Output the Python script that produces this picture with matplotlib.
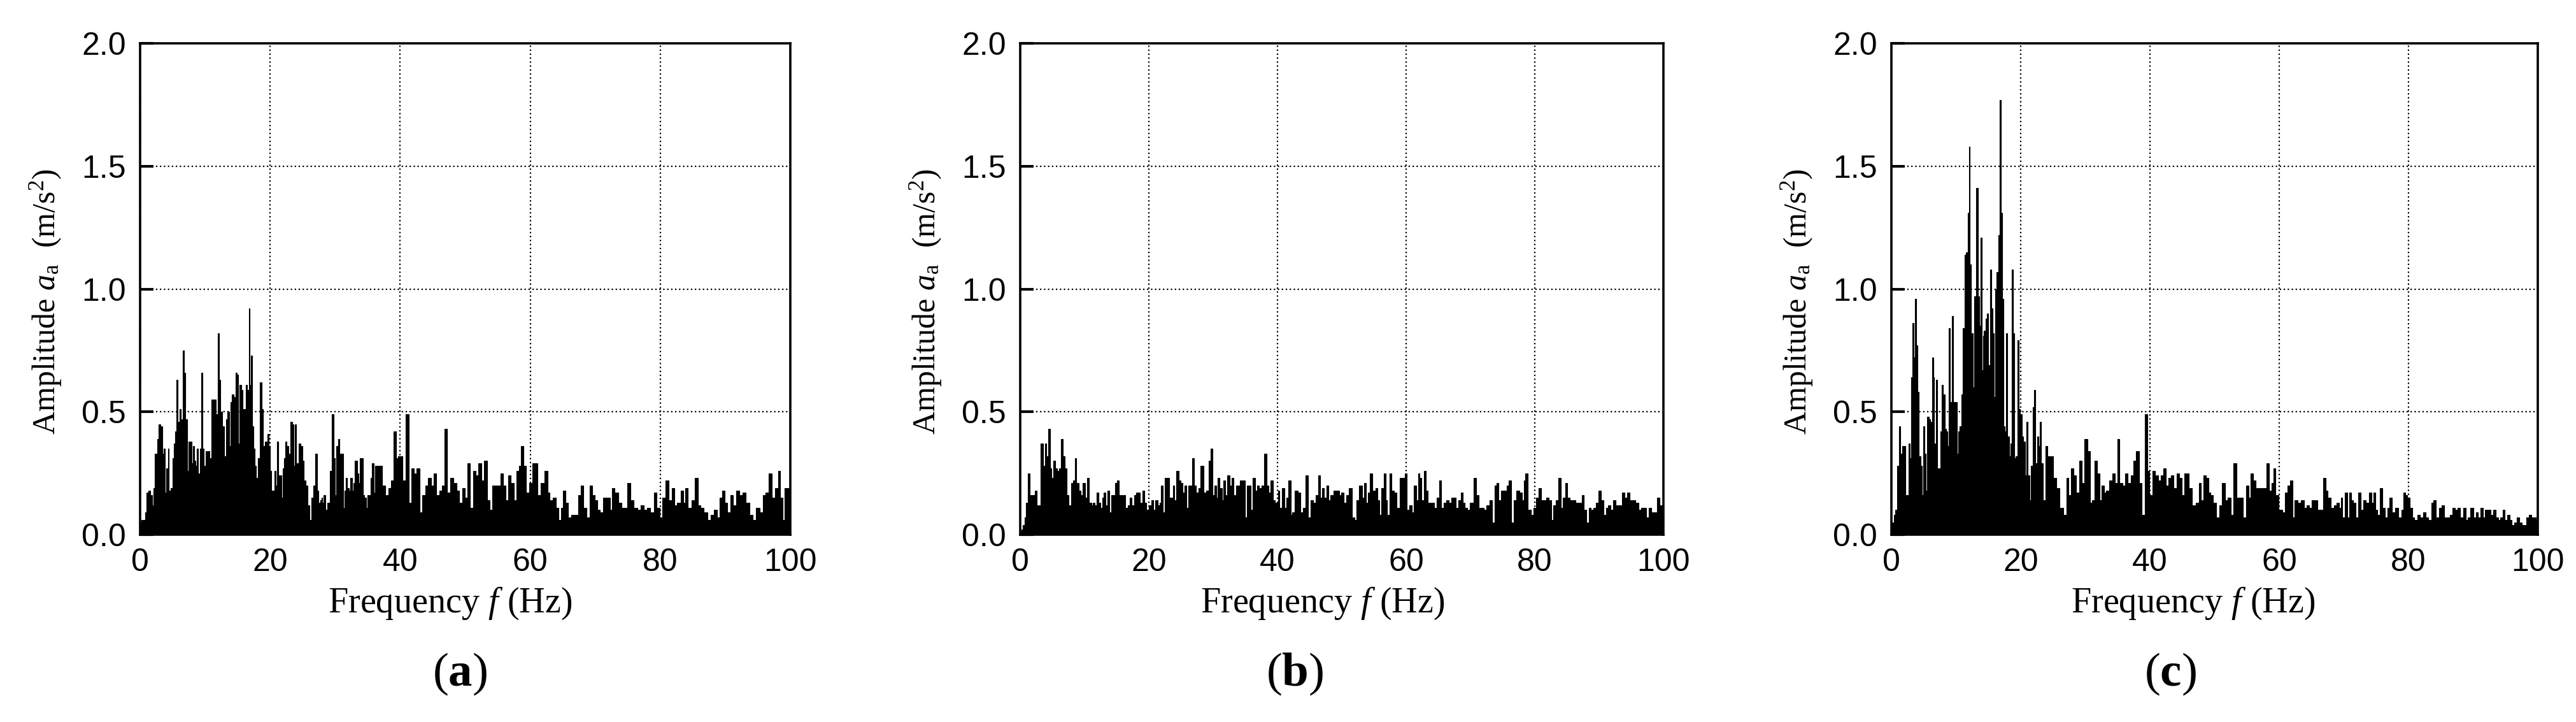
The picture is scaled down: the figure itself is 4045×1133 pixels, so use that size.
import numpy as np
import matplotlib
matplotlib.use("Agg")
import matplotlib.pyplot as plt

plt.rcParams['mathtext.fontset'] = 'custom'
plt.rcParams['mathtext.rm'] = 'Liberation Serif'
plt.rcParams['mathtext.it'] = 'Liberation Serif:italic'
plt.rcParams['mathtext.bf'] = 'Liberation Serif:bold'

# ---------------- data ----------------
A_FREQ = [
    0.0, 0.3, 0.6, 0.9, 1.1, 1.4, 1.7, 2.0, 2.1, 2.5,
    2.7, 3.0, 3.3, 3.5, 3.7, 3.9, 4.2, 4.4, 4.5, 4.7,
    4.8, 5.1, 5.3, 5.5, 5.7, 5.8, 6.0, 6.2, 6.4, 6.7,
    6.9, 7.1, 7.3, 7.6, 7.8, 8.0, 8.2, 8.4, 8.6, 8.8,
    9.0, 9.2, 9.3, 9.5, 9.7, 9.9, 10.2, 10.6, 10.8, 11.1,
    11.3, 11.6, 11.8, 12.1, 12.2, 12.5, 12.7, 12.8, 13.0, 13.2,
    13.3, 13.6, 13.8, 14.0, 14.2, 14.5, 14.8, 15.0, 15.2, 15.4,
    15.7, 15.9, 16.2, 16.3, 16.6, 16.8, 16.9, 17.1, 17.3, 17.5,
    17.7, 17.9, 18.0, 18.3, 18.6, 18.8, 19.0, 19.3, 19.5, 19.7,
    19.9, 20.1, 20.3, 20.6, 20.8, 20.9, 21.2, 21.4, 21.7, 21.8,
    22.0, 22.2, 22.4, 22.7, 22.9, 23.0, 23.3, 23.5, 23.7, 23.9,
    24.1, 24.3, 24.5, 24.9, 25.0, 25.3, 25.7, 25.9, 26.2, 26.5,
    26.8, 27.1, 27.3, 27.6, 27.8, 28.0, 28.1, 28.4, 28.6, 28.9,
    29.1, 29.3, 29.6, 29.9, 30.1, 30.3, 30.6, 30.8, 31.1, 31.3,
    31.5, 31.7, 32.0, 32.2, 32.5, 32.7, 32.9, 33.2, 33.5, 33.7,
    33.9, 34.1, 34.4, 34.6, 34.9, 35.1, 35.4, 35.5, 35.8, 36.0,
    36.3, 36.7, 37.0, 37.5, 37.9, 38.4, 38.8, 39.2, 39.5, 39.9,
    40.3, 40.5, 41.1, 41.6, 41.9, 42.3, 42.7, 43.2, 43.6, 44.1,
    44.5, 45.0, 45.3, 45.8, 46.2, 46.6, 47.1, 47.4, 47.9, 48.4,
    48.9, 49.3, 49.8, 50.1, 50.5, 51.0, 51.4, 51.8, 52.2, 52.7,
    53.1, 53.6, 53.9, 54.4, 54.8, 55.3, 55.6, 56.0, 56.4, 56.8,
    57.3, 57.7, 58.1, 58.4, 58.8, 59.2, 59.6, 60.1, 60.5, 60.9,
    61.4, 61.9, 62.5, 62.8, 63.2, 63.7, 64.2, 64.5, 64.9, 65.2,
    65.6, 66.1, 66.6, 67.1, 67.6, 67.9, 68.4, 69.0, 69.3, 69.7,
    70.1, 70.5, 71.0, 71.5, 72.1, 72.4, 72.7, 73.3, 73.8, 74.2,
    74.7, 75.2, 75.6, 76.2, 76.7, 77.2, 77.7, 78.2, 78.8, 79.2,
    79.7, 80.1, 80.6, 81.1, 81.5, 82.0, 82.3, 82.9, 83.4, 83.7,
    84.0, 84.5, 85.1, 85.5, 86.0, 86.4, 87.0, 87.5, 88.0, 88.5,
    88.9, 89.3, 89.7, 90.2, 90.5, 91.0, 91.4, 91.9, 92.5, 92.9,
    93.4, 94.0, 94.5, 95.0, 95.5, 96.0, 96.4, 97.0, 97.4, 97.9,
    98.3, 98.6, 99.0, 99.3, 99.8, 100.0]
A_AMP = [
    0.05, 0.06, 0.06, 0.09, 0.17, 0.18, 0.16, 0.12, 0.19, 0.33,
    0.39, 0.45, 0.44, 0.33, 0.35, 0.17, 0.27, 0.35, 0.18, 0.11,
    0.19, 0.31, 0.37, 0.42, 0.63, 0.45, 0.46, 0.51, 0.47, 0.75,
    0.66, 0.47, 0.26, 0.38, 0.38, 0.29, 0.36, 0.30, 0.28, 0.35,
    0.25, 0.10, 0.35, 0.66, 0.35, 0.28, 0.34, 0.34, 0.31, 0.55,
    0.55, 0.55, 0.49, 0.82, 0.63, 0.50, 0.41, 0.44, 0.32, 0.17,
    0.47, 0.50, 0.36, 0.54, 0.57, 0.56, 0.66, 0.65, 0.37, 0.61,
    0.59, 0.51, 0.51, 0.61, 0.59, 0.92, 0.61, 0.73, 0.44, 0.35,
    0.28, 0.17, 0.23, 0.31, 0.62, 0.51, 0.36, 0.38, 0.38, 0.41,
    0.36, 0.26, 0.18, 0.18, 0.26, 0.20, 0.38, 0.24, 0.24, 0.15,
    0.27, 0.31, 0.38, 0.36, 0.31, 0.33, 0.46, 0.45, 0.28, 0.45,
    0.29, 0.29, 0.37, 0.36, 0.30, 0.22, 0.20, 0.12, 0.06, 0.15,
    0.20, 0.33, 0.18, 0.13, 0.14, 0.15, 0.13, 0.16, 0.10, 0.13,
    0.13, 0.26, 0.49, 0.31, 0.16, 0.36, 0.39, 0.33, 0.33, 0.11,
    0.18, 0.23, 0.19, 0.18, 0.23, 0.18, 0.21, 0.30, 0.25, 0.21,
    0.31, 0.31, 0.16, 0.15, 0.11, 0.16, 0.16, 0.23, 0.29, 0.17,
    0.28, 0.28, 0.28, 0.20, 0.16, 0.19, 0.22, 0.42, 0.31, 0.32,
    0.32, 0.22, 0.49, 0.13, 0.27, 0.25, 0.27, 0.09, 0.16, 0.20,
    0.23, 0.20, 0.25, 0.16, 0.18, 0.20, 0.43, 0.17, 0.23, 0.21,
    0.18, 0.13, 0.19, 0.15, 0.29, 0.11, 0.26, 0.24, 0.29, 0.22,
    0.30, 0.14, 0.10, 0.20, 0.20, 0.20, 0.25, 0.20, 0.14, 0.24,
    0.21, 0.14, 0.26, 0.28, 0.36, 0.28, 0.17, 0.21, 0.29, 0.29,
    0.16, 0.21, 0.26, 0.17, 0.14, 0.15, 0.11, 0.06, 0.11, 0.18,
    0.13, 0.07, 0.08, 0.08, 0.16, 0.20, 0.11, 0.07, 0.20, 0.16,
    0.14, 0.10, 0.09, 0.15, 0.15, 0.10, 0.19, 0.17, 0.13, 0.11,
    0.11, 0.21, 0.14, 0.11, 0.10, 0.12, 0.10, 0.11, 0.09, 0.17,
    0.11, 0.07, 0.15, 0.22, 0.14, 0.19, 0.12, 0.13, 0.18, 0.13,
    0.19, 0.11, 0.14, 0.23, 0.12, 0.11, 0.09, 0.06, 0.08, 0.10,
    0.07, 0.15, 0.18, 0.13, 0.09, 0.16, 0.12, 0.18, 0.16, 0.17,
    0.13, 0.08, 0.06, 0.11, 0.09, 0.16, 0.17, 0.25, 0.15, 0.19,
    0.26, 0.15, 0.06, 0.19, 0.19, 0.15]

B_FREQ = [
    0.0, 0.3, 0.5, 0.8, 1.0, 1.3, 1.6, 1.9, 2.2, 2.4,
    2.7, 3.0, 3.4, 3.7, 4.0, 4.2, 4.5, 4.8, 5.0, 5.3,
    5.6, 5.9, 6.2, 6.5, 6.8, 7.1, 7.4, 7.7, 8.1, 8.4,
    8.6, 8.9, 9.3, 9.6, 9.9, 10.3, 10.5, 10.9, 11.2, 11.4,
    11.7, 12.1, 12.3, 12.6, 12.9, 13.1, 13.4, 13.7, 14.0, 14.3,
    14.7, 14.9, 15.2, 15.5, 15.9, 16.2, 16.5, 16.9, 17.2, 17.5,
    17.9, 18.2, 18.5, 18.8, 19.2, 19.5, 19.8, 20.2, 20.5, 20.8,
    21.2, 21.5, 21.8, 22.0, 22.4, 22.6, 23.0, 23.3, 23.6, 23.9,
    24.1, 24.5, 24.8, 25.1, 25.4, 25.7, 26.0, 26.3, 26.5, 26.9,
    27.2, 27.5, 27.9, 28.2, 28.4, 28.7, 29.1, 29.5, 29.7, 30.1,
    30.3, 30.6, 30.8, 31.2, 31.5, 31.7, 32.0, 32.4, 32.7, 33.0,
    33.4, 33.7, 34.0, 34.4, 34.8, 35.1, 35.3, 35.7, 36.0, 36.3,
    36.7, 37.0, 37.3, 37.7, 38.2, 38.4, 38.8, 39.1, 39.5, 39.8,
    40.0, 40.2, 40.4, 40.9, 41.2, 41.5, 41.9, 42.2, 42.4, 42.9,
    43.4, 43.8, 44.2, 44.6, 45.0, 45.3, 45.7, 46.1, 46.5, 46.8,
    47.1, 47.4, 47.8, 48.0, 48.4, 49.1, 49.5, 49.8, 50.1, 50.5,
    50.8, 51.4, 51.8, 52.1, 52.4, 53.0, 53.4, 53.6, 53.9, 54.2,
    54.5, 55.0, 55.4, 55.6, 56.0, 56.3, 56.7, 56.9, 57.2, 57.6,
    57.9, 58.3, 58.8, 59.3, 59.7, 59.9, 60.2, 60.7, 61.0, 61.4,
    61.7, 62.0, 62.2, 62.6, 62.9, 63.2, 63.6, 64.2, 64.6, 64.9,
    65.3, 65.6, 66.0, 66.5, 66.8, 67.2, 67.6, 67.9, 68.3, 68.7,
    69.0, 69.3, 69.7, 70.2, 70.7, 71.0, 71.5, 71.9, 72.2, 72.7,
    73.2, 73.6, 73.9, 74.2, 74.6, 74.9, 75.4, 75.8, 76.1, 76.5,
    76.9, 77.4, 77.8, 78.2, 78.4, 78.7, 79.2, 79.6, 80.0, 80.4,
    80.8, 81.2, 81.6, 82.0, 82.4, 82.7, 83.0, 83.5, 83.9, 84.2,
    84.6, 84.9, 85.2, 85.7, 86.1, 86.6, 87.1, 87.5, 87.8, 88.2,
    88.6, 88.9, 89.3, 89.7, 90.1, 90.5, 90.9, 91.2, 91.6, 92.0,
    92.4, 92.8, 93.3, 93.8, 94.2, 94.6, 95.0, 95.4, 95.9, 96.3,
    96.7, 97.1, 97.5, 97.9, 98.4, 98.8, 99.2, 99.6, 100.0]
B_AMP = [
    0.01, 0.02, 0.04, 0.07, 0.13, 0.25, 0.16, 0.16, 0.16, 0.18,
    0.12, 0.12, 0.37, 0.28, 0.37, 0.32, 0.43, 0.27, 0.23, 0.30,
    0.27, 0.26, 0.27, 0.39, 0.32, 0.27, 0.16, 0.12, 0.21, 0.22,
    0.31, 0.21, 0.18, 0.16, 0.21, 0.15, 0.23, 0.13, 0.12, 0.13,
    0.12, 0.17, 0.13, 0.11, 0.15, 0.17, 0.12, 0.18, 0.09, 0.16,
    0.16, 0.21, 0.22, 0.16, 0.16, 0.16, 0.11, 0.12, 0.15, 0.12,
    0.16, 0.17, 0.17, 0.13, 0.18, 0.13, 0.10, 0.12, 0.14, 0.10,
    0.14, 0.12, 0.13, 0.20, 0.09, 0.23, 0.23, 0.15, 0.15, 0.20,
    0.14, 0.26, 0.22, 0.21, 0.17, 0.20, 0.11, 0.20, 0.20, 0.31,
    0.20, 0.17, 0.19, 0.28, 0.28, 0.17, 0.18, 0.30, 0.35, 0.16,
    0.20, 0.15, 0.23, 0.19, 0.14, 0.22, 0.16, 0.24, 0.20, 0.23,
    0.16, 0.20, 0.20, 0.22, 0.22, 0.07, 0.20, 0.20, 0.10, 0.23,
    0.18, 0.20, 0.19, 0.20, 0.33, 0.20, 0.17, 0.22, 0.14, 0.13,
    0.13, 0.18, 0.11, 0.19, 0.11, 0.15, 0.22, 0.08, 0.09, 0.18,
    0.17, 0.09, 0.11, 0.24, 0.07, 0.14, 0.13, 0.16, 0.24, 0.15,
    0.19, 0.15, 0.20, 0.14, 0.16, 0.18, 0.18, 0.16, 0.17, 0.13,
    0.16, 0.19, 0.07, 0.06, 0.14, 0.20, 0.15, 0.21, 0.13, 0.17,
    0.25, 0.18, 0.19, 0.14, 0.08, 0.19, 0.25, 0.14, 0.08, 0.25,
    0.18, 0.17, 0.11, 0.23, 0.23, 0.25, 0.10, 0.12, 0.09, 0.20,
    0.14, 0.25, 0.23, 0.14, 0.26, 0.18, 0.13, 0.13, 0.11, 0.15,
    0.22, 0.11, 0.13, 0.14, 0.13, 0.15, 0.15, 0.11, 0.14, 0.17,
    0.13, 0.11, 0.10, 0.13, 0.23, 0.16, 0.11, 0.11, 0.10, 0.12,
    0.14, 0.05, 0.20, 0.21, 0.14, 0.18, 0.18, 0.20, 0.22, 0.05,
    0.14, 0.18, 0.17, 0.14, 0.22, 0.25, 0.10, 0.08, 0.11, 0.15,
    0.19, 0.14, 0.14, 0.15, 0.14, 0.06, 0.12, 0.14, 0.23, 0.11,
    0.15, 0.21, 0.15, 0.14, 0.14, 0.13, 0.13, 0.16, 0.10, 0.05,
    0.11, 0.10, 0.11, 0.13, 0.18, 0.14, 0.08, 0.11, 0.12, 0.10,
    0.14, 0.12, 0.12, 0.17, 0.15, 0.17, 0.14, 0.14, 0.13, 0.10,
    0.11, 0.11, 0.07, 0.11, 0.09, 0.09, 0.15, 0.12, 0.11]

C_FREQ = [
    0.0, 0.25, 0.5, 0.75, 1.0, 1.3, 1.5, 1.8, 2.1, 2.3,
    2.5, 2.8, 3.0, 3.2, 3.4, 3.5, 3.8, 3.9, 4.1, 4.4,
    4.6, 4.8, 5.0, 5.3, 5.4, 5.7, 5.9, 6.2, 6.4, 6.6,
    6.7, 7.0, 7.2, 7.5, 7.7, 7.9, 8.1, 8.4, 8.5, 8.8,
    9.0, 9.2, 9.5, 9.7, 10.0, 10.2, 10.4, 10.7, 10.9, 11.2,
    11.4, 11.7, 11.9, 12.1, 12.2, 12.5, 12.7, 13.0, 13.2, 13.5,
    13.7, 13.9, 14.1, 14.2, 14.4, 14.7, 14.9, 15.1, 15.4, 15.6,
    15.8, 16.0, 16.2, 16.4, 16.7, 16.8, 17.0, 17.2, 17.4, 17.6,
    17.8, 18.1, 18.3, 18.5, 18.7, 18.9, 19.1, 19.4, 19.6, 19.8,
    20.0, 20.3, 20.5, 20.8, 21.0, 21.2, 21.5, 21.7, 22.0, 22.2,
    22.4, 22.7, 22.9, 23.1, 23.3, 23.6, 24.0, 24.3, 24.6, 24.8,
    25.3, 25.7, 26.4, 26.9, 27.2, 27.6, 28.0, 28.3, 28.8, 29.3,
    29.6, 30.1, 30.5, 30.9, 31.2, 31.7, 32.0, 32.4, 32.7, 33.1,
    33.4, 34.0, 34.4, 34.8, 35.1, 35.5, 36.0, 36.4, 36.8, 37.2,
    37.6, 38.1, 38.5, 39.0, 39.4, 39.8, 40.1, 40.6, 41.0, 41.5,
    41.9, 42.2, 42.7, 43.1, 43.4, 43.9, 44.4, 44.7, 45.1, 45.5,
    45.8, 46.3, 46.8, 47.3, 47.8, 48.0, 48.5, 48.9, 49.2, 49.6,
    50.0, 50.5, 50.9, 51.4, 51.8, 52.3, 52.7, 53.2, 53.6, 54.1,
    54.6, 55.1, 55.4, 55.8, 56.2, 56.5, 57.0, 57.5, 57.9, 58.2,
    58.6, 59.0, 59.2, 59.6, 60.2, 60.7, 61.1, 61.4, 61.9, 62.2,
    62.6, 63.1, 63.6, 64.0, 64.5, 64.8, 65.3, 65.8, 66.0, 66.5,
    67.0, 67.3, 67.7, 68.2, 68.7, 69.1, 69.4, 69.7, 69.9, 70.3,
    70.7, 71.0, 71.3, 71.6, 72.0, 72.5, 72.8, 73.2, 73.6, 74.1,
    74.4, 74.7, 75.0, 75.4, 75.8, 76.2, 76.5, 76.9, 77.2, 77.7,
    78.2, 78.7, 79.1, 79.3, 79.7, 80.0, 80.4, 80.7, 81.1, 81.6,
    82.0, 82.5, 82.8, 83.3, 83.7, 84.0, 84.5, 85.0, 85.3, 85.8,
    86.3, 86.6, 87.0, 87.3, 87.8, 88.2, 88.7, 89.0, 89.4, 89.8,
    90.3, 90.6, 90.9, 91.3, 91.7, 92.0, 92.5, 92.9, 93.3, 93.7,
    94.0, 94.4, 94.7, 95.1, 95.5, 95.8, 96.2, 96.6, 96.9, 97.3,
    97.7, 98.1, 98.4, 98.8, 99.2, 99.5, 99.9, 100.0]
C_AMP = [
    0.03, 0.05, 0.08, 0.10, 0.28, 0.44, 0.33, 0.36, 0.36, 0.16,
    0.16, 0.37, 0.31, 0.64, 0.86, 0.72, 0.96, 0.77, 0.58, 0.32,
    0.28, 0.16, 0.44, 0.33, 0.18, 0.48, 0.47, 0.46, 0.72, 0.64,
    0.37, 0.63, 0.27, 0.27, 0.42, 0.61, 0.57, 0.43, 0.42, 0.36,
    0.84, 0.54, 0.89, 0.54, 0.54, 0.33, 0.42, 0.44, 0.57, 0.84,
    1.14, 1.15, 1.31, 1.58, 1.10, 0.82, 0.60, 0.97, 1.41, 0.97,
    0.85, 1.21, 0.67, 0.81, 0.83, 0.88, 0.90, 0.69, 1.08, 0.92,
    0.82, 0.56, 1.00, 1.07, 1.22, 1.77, 1.31, 0.96, 0.44, 0.42,
    0.82, 0.40, 0.32, 0.37, 1.08, 0.82, 0.31, 0.32, 0.79, 0.51,
    0.49, 0.40, 0.38, 0.24, 0.46, 0.24, 0.14, 0.28, 0.52, 0.59,
    0.29, 0.40, 0.36, 0.46, 0.29, 0.14, 0.36, 0.32, 0.32, 0.32,
    0.23, 0.19, 0.11, 0.08, 0.23, 0.16, 0.27, 0.24, 0.17, 0.30,
    0.21, 0.39, 0.34, 0.13, 0.14, 0.30, 0.25, 0.14, 0.20, 0.17,
    0.18, 0.22, 0.25, 0.21, 0.39, 0.21, 0.20, 0.25, 0.21, 0.24,
    0.30, 0.34, 0.21, 0.08, 0.49, 0.26, 0.16, 0.26, 0.24, 0.22,
    0.24, 0.27, 0.20, 0.23, 0.24, 0.19, 0.25, 0.23, 0.16, 0.25,
    0.25, 0.19, 0.12, 0.13, 0.21, 0.14, 0.24, 0.23, 0.17, 0.16,
    0.13, 0.07, 0.12, 0.21, 0.14, 0.15, 0.08, 0.29, 0.15, 0.15,
    0.07, 0.20, 0.15, 0.25, 0.22, 0.19, 0.19, 0.19, 0.19, 0.29,
    0.18, 0.21, 0.27, 0.16, 0.10, 0.09, 0.17, 0.20, 0.22, 0.07,
    0.14, 0.13, 0.14, 0.11, 0.12, 0.11, 0.14, 0.14, 0.10, 0.10,
    0.23, 0.18, 0.15, 0.11, 0.12, 0.13, 0.11, 0.15, 0.07, 0.17,
    0.07, 0.17, 0.14, 0.13, 0.07, 0.17, 0.10, 0.14, 0.13, 0.17,
    0.13, 0.17, 0.10, 0.08, 0.19, 0.11, 0.07, 0.11, 0.15, 0.09,
    0.11, 0.07, 0.10, 0.17, 0.16, 0.15, 0.11, 0.07, 0.06, 0.08,
    0.07, 0.09, 0.07, 0.06, 0.13, 0.14, 0.07, 0.11, 0.12, 0.07,
    0.07, 0.08, 0.11, 0.10, 0.11, 0.07, 0.11, 0.06, 0.07, 0.11,
    0.07, 0.09, 0.07, 0.11, 0.07, 0.10, 0.10, 0.08, 0.10, 0.07,
    0.06, 0.07, 0.10, 0.06, 0.08, 0.06, 0.04, 0.05, 0.07, 0.05,
    0.04, 0.04, 0.07, 0.08, 0.07, 0.07, 0.06, 0.06]

PANEL_LETTERS = ['a', 'b', 'c']
X_TICKS = [0, 20, 40, 60, 80, 100]
Y_TICKS = [0.0, 0.5, 1.0, 1.5, 2.0]
X_LABEL = 'Frequency $f$ (Hz)'
Y_LABEL = 'Amplitude $a_{\\mathrm{a}}$  (m/s$^{2}$)'

SERIES = [(A_FREQ, A_AMP), (B_FREQ, B_AMP), (C_FREQ, C_AMP)]

# ---------------- layout ----------------
W, H = 4045, 1133
fig = plt.figure(figsize=(W / 100, H / 100), dpi=100)
fig.patch.set_facecolor('white')

AX_PX = [(220, 1241), (1602, 2612), (2970, 3985)]
TOP, BOTTOM = 68, 839
XLABEL_X = [0.477, 0.470, 0.467]   # label centres, axes fraction
LETTER_X = [0.492, 0.427, 0.432]

for i, ((l, r), (fr, am), letter) in enumerate(zip(AX_PX, SERIES, PANEL_LETTERS)):
    ax = fig.add_axes([l / W, 1 - BOTTOM / H, (r - l) / W, (BOTTOM - TOP) / H])
    ax.set_axisbelow(True)
    ax.grid(True, color='black', linestyle=(0, (1.0, 1.8)), linewidth=1.6)
    ax.fill_between(fr, am, 0, step='mid', color='black', linewidth=0)
    ax.plot(fr, am, drawstyle='steps-mid', color='black', linewidth=0.8)
    ax.set_xlim(0, 100)
    ax.set_ylim(0, 2)
    ax.set_xticks(X_TICKS)
    ax.set_xticklabels([str(v) for v in X_TICKS])
    ax.set_yticks(Y_TICKS)
    ax.set_yticklabels([f'{v:.1f}' for v in Y_TICKS])
    for lab in ax.get_xticklabels() + ax.get_yticklabels():
        lab.set_fontfamily('Liberation Sans')
        lab.set_fontsize(36)
    ax.tick_params(axis='y', direction='in', length=15, width=3, pad=16)
    ax.tick_params(axis='x', length=0, pad=15)
    for sp in ax.spines.values():
        sp.set_linewidth(2.6)
        sp.set_color('black')
    ax.set_xlabel(X_LABEL, fontsize=40.5, family='Liberation Serif')
    ax.xaxis.set_label_coords(XLABEL_X[i], -0.103)
    ax.set_ylabel(Y_LABEL, fontsize=36, family='Liberation Serif')
    ax.yaxis.set_label_coords(-120 / (r - l), 0.475)
    ax.text(LETTER_X[i], -0.284, '($\\mathbf{' + letter + '}$)', transform=ax.transAxes,
            ha='center', va='center', fontsize=54, family='Liberation Serif')

fig.savefig('out.png', dpi=100, facecolor='white')
